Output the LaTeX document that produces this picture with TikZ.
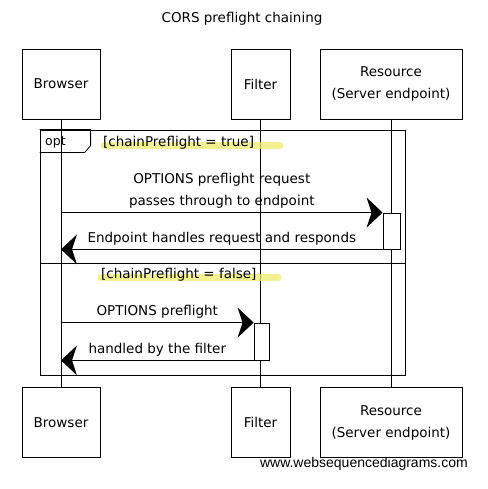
\documentclass[tikz,border=0pt]{standalone}
\usepackage{fontspec}
\setmainfont{DejaVu Sans}
\newfontfamily\wsdfont{Liberation Sans}
\usetikzlibrary{arrows.meta, positioning}

\definecolor{markyellow}{RGB}{238,236,110}

\tikzset{
  actor/.style={draw, line width=0.8pt, fill=white, minimum height=70pt, align=center, font=\fontsize{13.5}{22}\selectfont},
  actbox/.style={draw, line width=0.8pt, fill=white, inner sep=0pt},
  msg/.style={line width=1.1pt, -{Stealth[length=16pt, width=30pt, inset=5pt]}},
  msglabel/.style={align=center, font=\fontsize{13.5}{22}\selectfont},
  guard/.style={anchor=west, inner sep=0pt, font=\fontsize{13.5}{15}\selectfont},
  marker/.style={line width=7pt, line cap=round, color=markyellow, opacity=0.75}
}

\begin{document}
\begin{tikzpicture}[x=1pt, y=-1pt]
    \useasboundingbox (0,0) rectangle (487,489);

    \node[font=\fontsize{13.5}{15}\selectfont] (title) at (242,19) {CORS preflight chaining};

    \node[actor, minimum width=78pt] (browserTop) at (61,84) {Browser};
    \node[actor, minimum width=59pt] (filterTop) at (260.5,84) {Filter};
    \node[actor, minimum width=142pt] (resourceTop) at (391,84) {Resource\\(Server endpoint)};
    \node[actor, minimum width=78pt] (browserBot) at (61,422.5) {Browser};
    \node[actor, minimum width=59pt] (filterBot) at (260.5,422.5) {Filter};
    \node[actor, minimum width=142pt] (resourceBot) at (391,422.5) {Resource\\(Server endpoint)};

    \draw[line width=0.8pt] (browserTop) -- (browserBot)
        (filterTop) -- (filterBot)
        (resourceTop) -- (resourceBot);

    % opt frame
    \node[draw, line width=0.8pt, minimum width=365pt, minimum height=245pt, inner sep=0pt] (optframe) at (222.5,252.5) {};
    \draw[line width=0.8pt] (optframe.north west) -- ++(51,0) -- ++(0,16) -- ++(-6,7) -- ++(-45,0);
    \node[font=\fontsize{12.5}{14}\selectfont, anchor=west, inner sep=0pt] (optlabel) at (45,142) {opt};
    \draw[line width=0.8pt] (optframe.west |- 0,263) coordinate (elseL) -- (optframe.east |- elseL);

    \draw[marker] (104,146) -- (280,146);
    \node[guard] (guardTrue) at (103,143) {[chainPreflight = true]};
    \draw[marker] (101,277) -- (278,277);
    \node[guard] (guardFalse) at (101,275) {[chainPreflight = false]};

    % chained to the endpoint
    \node[actbox, minimum width=17pt, minimum height=36pt] (actResource) at (391.5,231) {};
    \draw[msg] (browserTop |- actResource.north west) -- node[msglabel, above] {OPTIONS preflight request\\passes through to endpoint} (actResource.north west);
    \draw[msg] (actResource.south west) -- node[msglabel, above] {Endpoint handles request and responds} (browserTop |- actResource.south west);

    % handled by the filter
    \node[actbox, minimum width=15pt, minimum height=37pt] (actFilter) at (261.5,341.5) {};
    \draw[msg] (browserTop |- actFilter.north west) -- node[msglabel, above] {OPTIONS preflight} (actFilter.north west);
    \draw[msg] (actFilter.south west) -- node[msglabel, above] {handled by the filter} (browserTop |- actFilter.south west);

    \node[font=\wsdfont\fontsize{14}{16}\selectfont, anchor=east, inner sep=0pt] (credit) at (468,464) {www.websequencediagrams.com};
\end{tikzpicture}
\end{document}
